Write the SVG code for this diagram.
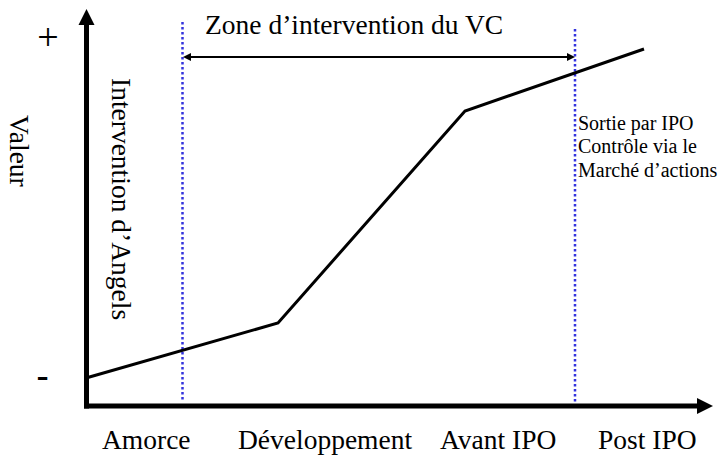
<svg xmlns="http://www.w3.org/2000/svg" width="723" height="458" viewBox="0 0 723 458">
<style>
  .t { font-family: "Liberation Serif", "Times New Roman", serif; fill: #000; }
  .big { font-size: 27.5px; }
  .small { font-size: 20px; }
  .plus { font-family: "Liberation Serif", "Times New Roman", serif; font-size: 38px; fill: #000; }
  .sign { font-family: "Liberation Sans", Arial, sans-serif; font-size: 38px; fill: #000; }
  .axis { stroke: #000; stroke-width: 5; fill: none; }
  .dots { stroke: #3333dd; stroke-width: 2.5; stroke-dasharray: 2.5 2.5; fill: none; }
  .curve { stroke: #000; stroke-width: 3; fill: none; stroke-linejoin: miter; }
  .thin { stroke: #000; stroke-width: 2; fill: none; }
</style>
<rect width="723" height="458" fill="#fff"/>
<g id="axes">
  <line class="axis" x1="86.5" y1="22" x2="86.5" y2="408.5"/>
  <polygon points="86.5,9 78.5,25 94.5,25" fill="#000"/>
  <line class="axis" x1="84" y1="406" x2="700" y2="406"/>
  <polygon points="713,406 697,398 697,414" fill="#000"/>
</g>
<g id="connectors">
  <line class="dots" x1="182.5" y1="22" x2="182.5" y2="400"/>
  <line class="dots" x1="575" y1="29" x2="575" y2="402"/>
  <line class="thin" x1="189" y1="57" x2="569" y2="57"/>
  <polygon points="183,57 191,53 191,61" fill="#000"/>
  <polygon points="575,57 567,53 567,61" fill="#000"/>
  <polyline class="curve" points="86,378 278,323 465,111 644,49"/>
</g>
<g id="labels">
  <text class="plus" x="48" y="50" text-anchor="middle">+</text>
  <text class="sign" x="42.5" y="389" text-anchor="middle">-</text>
  <text class="t big" transform="translate(10,115) rotate(90)">Valeur</text>
  <text class="t big" transform="translate(112,78) rotate(90)">Intervention d’Angels</text>
  <text class="t big" x="205" y="34">Zone d’intervention du VC</text>
  <text class="t small" x="578" y="130">Sortie par IPO</text>
  <text class="t small" x="578" y="153">Contrôle via le</text>
  <text class="t small" x="578" y="177">Marché d’actions</text>
</g>
<g id="stages">
  <text class="t big" x="102" y="449">Amorce</text>
  <text class="t big" x="238" y="449">Développement</text>
  <text class="t big" x="440" y="449">Avant IPO</text>
  <text class="t big" x="598" y="449">Post IPO</text>
</g>
</svg>
